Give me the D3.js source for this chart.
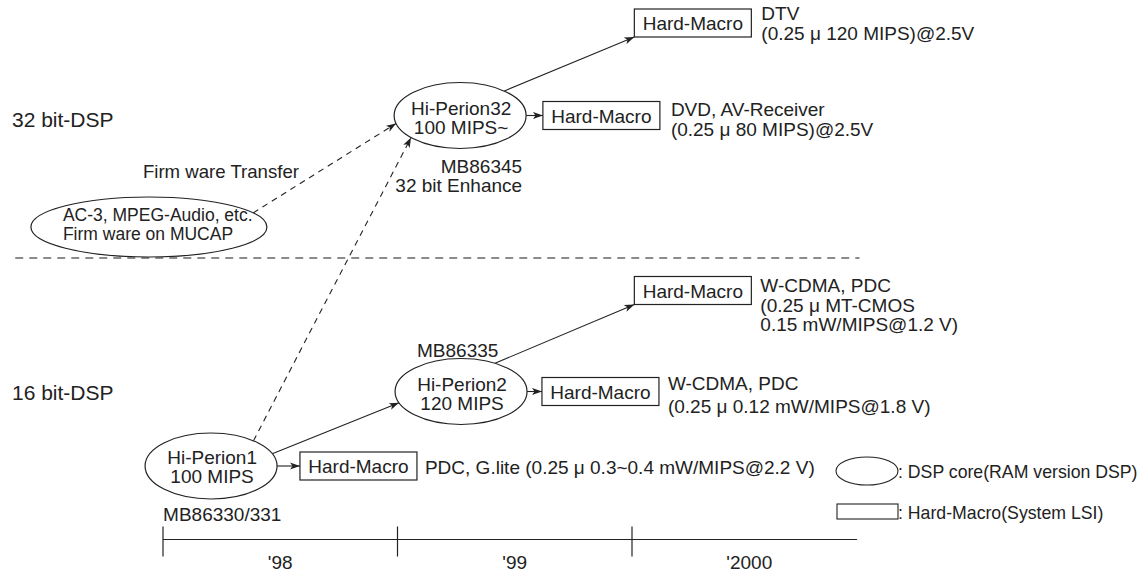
<!DOCTYPE html>
<html><head><meta charset="utf-8">
<script src="https://cdn.jsdelivr.net/npm/d3@7"></script>
<style>
html,body{margin:0;padding:0;background:#fff;}
svg{display:block;font-family:"Liberation Sans",Arial,Helvetica,sans-serif;}
</style></head><body>
<svg id="c" width="1148" height="574"></svg>
<script>
// ---------------- data ----------------
const yearTicks = [1998, 1999, 2000];
const yearLabels = ["'98", "'99", "'2000"];
const timelineEnd = 2000.96;

const sectionNames = ["32 bit-DSP", "16 bit-DSP"];
const sectionLevels = [12.7, 40.0];
const separatorLevel = 25.8;
const separatorYears = [1997.37, 2000.97];

const coreIds = ["hp32", "hp2", "hp1", "ac3"];
const coreLines = [["Hi-Perion32", "100 MIPS~"], ["Hi-Perion2", "120 MIPS"], ["Hi-Perion1", "100 MIPS"], ["AC-3, MPEG-Audio, etc.", "Firm ware on MUCAP"]];
const coreParts = [["MB86345", "32 bit Enhance"], ["MB86335"], ["MB86330/331"], []];
const coreYears = [1999.267, 1999.271, 1998.205, 1997.94];
const coreLevels = [11.55, 39.15, 46.6, 22.7];

const macroIds = ["dtv", "dvd", "wcdma2", "wcdma1", "pdc"];
const macroYears = [2000.01, 1999.62, 2000.01, 1999.616, 1998.584];
const macroLevels = [2.3, 11.55, 29.05, 39.15, 46.6];
const macroApps = [
  ["DTV", "(0.25 μ 120 MIPS)@2.5V"],
  ["DVD, AV-Receiver", "(0.25 μ 80 MIPS)@2.5V"],
  ["W-CDMA, PDC", "(0.25 μ MT-CMOS", "0.15 mW/MIPS@1.2 V)"],
  ["W-CDMA, PDC", "(0.25 μ 0.12 mW/MIPS@1.8 V)"],
  ["PDC, G.lite (0.25 μ 0.3~0.4 mW/MIPS@2.2 V)"]
];

const linkSources = ["hp32", "hp32", "hp2", "hp2", "hp1", "hp1", "ac3", "hp1"];
const linkTargets = ["dtv", "dvd", "wcdma2", "wcdma1", "hp2", "pdc", "hp32", "hp32"];
const linkKinds = ["solid", "solid", "solid", "solid", "solid", "solid", "dashed", "dashed"];
const linkLabels = ["", "", "", "", "", "", "Firm ware Transfer", ""];

const legendLabels = [": DSP core(RAM version DSP)", ": Hard-Macro(System LSI)"];

// ---------------- layout ----------------
const W = 1148, H = 574;
const ink = "#222";
const x = d3.scaleLinear().domain([1998, 2000]).range([163, 632]);
const y = d3.scaleLinear().domain([0, 57.4]).range([0, H]);

const svg = d3.select("#c");
svg.append("defs").append("marker")
  .attr("id", "arr").attr("viewBox", "0 -4 10 8").attr("refX", 10).attr("refY", 0)
  .attr("markerWidth", 10).attr("markerHeight", 8).attr("markerUnits", "userSpaceOnUse")
  .attr("orient", "auto")
  .append("path").attr("d", "M0,-3.6L10,0L0,3.6L2.6,0Z").attr("fill", ink);

const coreSize = {hp32: [66, 33], hp2: [66, 33], hp1: [66, 33], ac3: [118, 30]};
const coreText = {
  hp32: {anchor: "middle", dx: 1, dy: [-1, 18], fs: 19},
  hp2: {anchor: "middle", dx: 1, dy: [-1, 18], fs: 19},
  hp1: {anchor: "middle", dx: 1, dy: [-2, 17], fs: 19},
  ac3: {anchor: "start", dx: -86, dy: [-6, 13], fs: 17.5}
};
const partText = {
  hp32: {anchor: "end", dx: 62, dy: 57.5, gap: 19},
  hp2: {anchor: "start", dx: -44, dy: -34.5, gap: 19},
  hp1: {anchor: "start", dx: -48, dy: 55, gap: 19},
  ac3: {anchor: "start", dx: 0, dy: 0, gap: 19}
};
const boxW = 117, boxH = 28;
const macroText = {
  dtv: {dx: 10, dy: -3, gap: 20},
  dvd: {dx: 11, dy: 0.5, gap: 19.5},
  wcdma2: {dx: 9, dy: 1.5, gap: 19.5},
  wcdma1: {dx: 9, dy: -2, gap: 23},
  pdc: {dx: 8, dy: 8, gap: 0}
};
// anchors: number = angle on ellipse (deg), array = [fx, fy] on box
const linkAnchors = [
  {s: -48, t: [0, 1]}, {s: 0, t: [0, 0.5]}, {s: -59, t: [0, 1]}, {s: 0, t: [0, 0.5]},
  {s: -22, t: 160}, {s: 0, t: [0, 0.5]}, {s: -28, t: 166}, {s: -50, t: 138}
];
const linkLabelOffset = {dx: -6, dy: -49};

const cores = coreIds.map((id, i) => ({id, lines: coreLines[i], parts: coreParts[i],
  cx: x(coreYears[i]), cy: y(coreLevels[i]), rx: coreSize[id][0], ry: coreSize[id][1]}));
const macros = macroIds.map((id, i) => ({id, apps: macroApps[i],
  x0: x(macroYears[i]), y0: y(macroLevels[i]) - boxH / 2}));
const byId = {};
cores.forEach(c => byId[c.id] = Object.assign({type: "core"}, c));
macros.forEach(m => byId[m.id] = Object.assign({type: "macro"}, m));

function anchorPt(node, a) {
  if (node.type === "core") {
    const t = a * Math.PI / 180;
    return [node.cx + node.rx * Math.cos(t), node.cy + node.ry * Math.sin(t)];
  }
  return [node.x0 + a[0] * boxW, node.y0 + a[1] * boxH];
}

// separator
svg.append("line")
  .attr("x1", x(separatorYears[0])).attr("x2", x(separatorYears[1]))
  .attr("y1", y(separatorLevel)).attr("y2", y(separatorLevel))
  .attr("stroke", "#666").attr("stroke-width", 1.5).attr("stroke-dasharray", "8,6");

// section labels
svg.selectAll("text.sec").data(sectionNames).join("text").attr("class", "sec")
  .attr("x", 12).attr("y", (d, i) => y(sectionLevels[i]))
  .attr("font-size", 21).attr("fill", ink).text(d => d);

// links
const links = linkSources.map((s, i) => ({s: byId[s], t: byId[linkTargets[i]], kind: linkKinds[i], label: linkLabels[i], a: linkAnchors[i]}));
svg.selectAll("line.link").data(links).join("line").attr("class", "link")
  .each(function(d) {
    const p0 = anchorPt(d.s, d.a.s), p1 = anchorPt(d.t, d.a.t);
    d3.select(this).attr("x1", p0[0]).attr("y1", p0[1]).attr("x2", p1[0]).attr("y2", p1[1]);
  })
  .attr("stroke", ink).attr("stroke-width", 1.1)
  .attr("stroke-dasharray", d => d.kind === "dashed" ? "6,5" : null)
  .attr("marker-end", "url(#arr)");
svg.selectAll("text.llab").data(links.filter(d => d.label)).join("text").attr("class", "llab")
  .attr("x", d => d.s.cx + linkLabelOffset.dx).attr("y", d => d.s.cy + linkLabelOffset.dy)
  .attr("font-size", 18.6).attr("fill", ink).text(d => d.label);

// core ellipses
const cg = svg.selectAll("g.core").data(cores).join("g").attr("class", "core");
cg.append("ellipse").attr("cx", d => d.cx).attr("cy", d => d.cy)
  .attr("rx", d => d.rx).attr("ry", d => d.ry)
  .attr("fill", "#fff").attr("stroke", ink).attr("stroke-width", 1.2);
cg.each(function(d) {
  const g = d3.select(this), L = coreText[d.id];
  d.lines.forEach((t, k) => g.append("text").attr("x", d.cx + L.dx).attr("y", d.cy + L.dy[k])
    .attr("text-anchor", L.anchor).attr("font-size", L.fs).attr("fill", ink).text(t));
  const P = partText[d.id];
  d.parts.forEach((t, k) => g.append("text").attr("x", d.cx + P.dx).attr("y", d.cy + P.dy + k * P.gap)
    .attr("text-anchor", P.anchor).attr("font-size", 19).attr("fill", ink).text(t));
});

// hard-macro boxes
const mg = svg.selectAll("g.macro").data(macros).join("g").attr("class", "macro");
mg.append("rect").attr("x", d => d.x0).attr("y", d => d.y0).attr("width", boxW).attr("height", boxH)
  .attr("fill", "#fff").attr("stroke", ink).attr("stroke-width", 1.2);
mg.append("text").attr("x", d => d.x0 + boxW / 2).attr("y", d => d.y0 + boxH / 2 + 7)
  .attr("text-anchor", "middle").attr("font-size", 19).attr("fill", ink).text("Hard-Macro");
mg.each(function(d) {
  const g = d3.select(this), L = macroText[d.id];
  d.apps.forEach((t, k) => g.append("text").attr("x", d.x0 + boxW + L.dx)
    .attr("y", d.y0 + boxH / 2 + L.dy + k * L.gap)
    .attr("font-size", 19).attr("fill", ink).text(t));
});

// timeline
const tlY = y(53.95);
svg.append("line").attr("x1", x(1998)).attr("x2", x(timelineEnd)).attr("y1", tlY).attr("y2", tlY)
  .attr("stroke", ink).attr("stroke-width", 1.2);
svg.selectAll("line.tick").data(yearTicks).join("line").attr("class", "tick")
  .attr("x1", d => x(d)).attr("x2", d => x(d)).attr("y1", tlY - 13).attr("y2", tlY + 17)
  .attr("stroke", ink).attr("stroke-width", 1.2);
svg.selectAll("text.year").data(yearTicks).join("text").attr("class", "year")
  .attr("x", d => x(d + 0.5)).attr("y", tlY + 29).attr("text-anchor", "middle")
  .attr("font-size", 19).attr("fill", ink).text((d, i) => yearLabels[i]);

// legend
const lgX = 837, lgY = 457;
svg.append("ellipse").attr("cx", lgX + 30).attr("cy", lgY + 14).attr("rx", 31).attr("ry", 14)
  .attr("fill", "none").attr("stroke", ink).attr("stroke-width", 1.1);
svg.append("rect").attr("x", lgX).attr("y", lgY + 47).attr("width", 61).attr("height", 15)
  .attr("fill", "none").attr("stroke", ink).attr("stroke-width", 1.1);
svg.selectAll("text.leg").data(legendLabels).join("text").attr("class", "leg")
  .attr("x", lgX + 61).attr("y", (d, i) => lgY + 21 + i * 41)
  .attr("font-size", 17.7).attr("fill", ink).text(d => d);
</script>
</body></html>
